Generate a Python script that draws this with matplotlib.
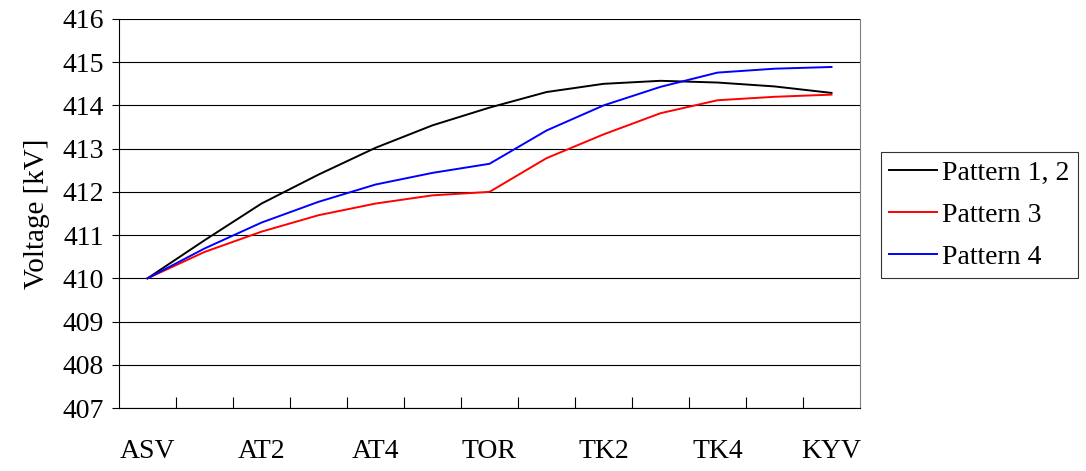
import numpy as np
import matplotlib
matplotlib.use("Agg")
import matplotlib.pyplot as plt
from matplotlib.ticker import FixedLocator

plt.rcParams['font.family'] = ['Liberation Serif', 'DejaVu Serif']

# stations along the line (only every other one is labelled on the chart)
stations = ['ASV', 'AT1', 'AT2', 'AT3', 'AT4', 'AT5', 'TOR',
            'TK1', 'TK2', 'TK3', 'TK4', 'TK5', 'KYV']

pattern12 = [410.0, 410.88, 411.73, 412.40, 413.02, 413.54, 413.95,
             414.31, 414.50, 414.57, 414.53, 414.44, 414.29]
pattern3 = [410.0, 410.61, 411.08, 411.46, 411.73, 411.92, 412.0,
            412.78, 413.33, 413.82, 414.12, 414.20, 414.25]
pattern4 = [410.0, 410.69, 411.29, 411.77, 412.17, 412.44, 412.65,
            413.42, 414.0, 414.43, 414.76, 414.85, 414.89]

fig = plt.figure(figsize=(10.86, 4.71), dpi=100)
ax = fig.add_axes([119 / 1086, 1 - 408 / 471, (860 - 119) / 1086, (408 - 19) / 471])

x = np.arange(len(stations))
ax.plot(x, pattern12, color='black', lw=1.4, label='Pattern 1, 2')
ax.plot(x, pattern3, color='#ff0000', lw=1.4, label='Pattern 3')
ax.plot(x, pattern4, color='#0000ff', lw=1.4, label='Pattern 4')

ax.set_xlim(-0.5, len(stations) - 0.5)
ax.set_ylim(407, 416)
ax.set_yticks(np.arange(407, 417, 1))
ax.yaxis.grid(True, color='black', lw=0.8)
ax.set_axisbelow(True)

ax.set_xticks(x[::2])
ax.set_xticklabels(stations[::2])
ax.xaxis.set_minor_locator(FixedLocator(np.arange(0.5, len(stations) - 1, 1)))
ax.tick_params(axis='x', which='major', length=0, pad=22, labelsize=20)
ax.tick_params(axis='x', which='minor', direction='in', length=8, width=0.8, color='black')
ax.tick_params(axis='y', direction='out', length=5, width=0.8, labelsize=20, pad=6)

ax.spines['right'].set_color('#808080')
ax.spines['top'].set_visible(False)
ax.spines['left'].set_color('black')
ax.spines['bottom'].set_color('black')

ax.set_ylabel('Voltage [kV]', fontsize=21, labelpad=9)

leg = ax.legend(loc='upper left', bbox_to_anchor=(881 / 1086, 1 - 152 / 471),
                bbox_transform=fig.transFigure, fontsize=20, frameon=True,
                fancybox=False, edgecolor='black', handlelength=1.7,
                handletextpad=0.2, labelspacing=0.6, borderpad=0.3,
                borderaxespad=0)
leg.get_frame().set_linewidth(0.8)

fig.savefig('out.png', dpi=100)
